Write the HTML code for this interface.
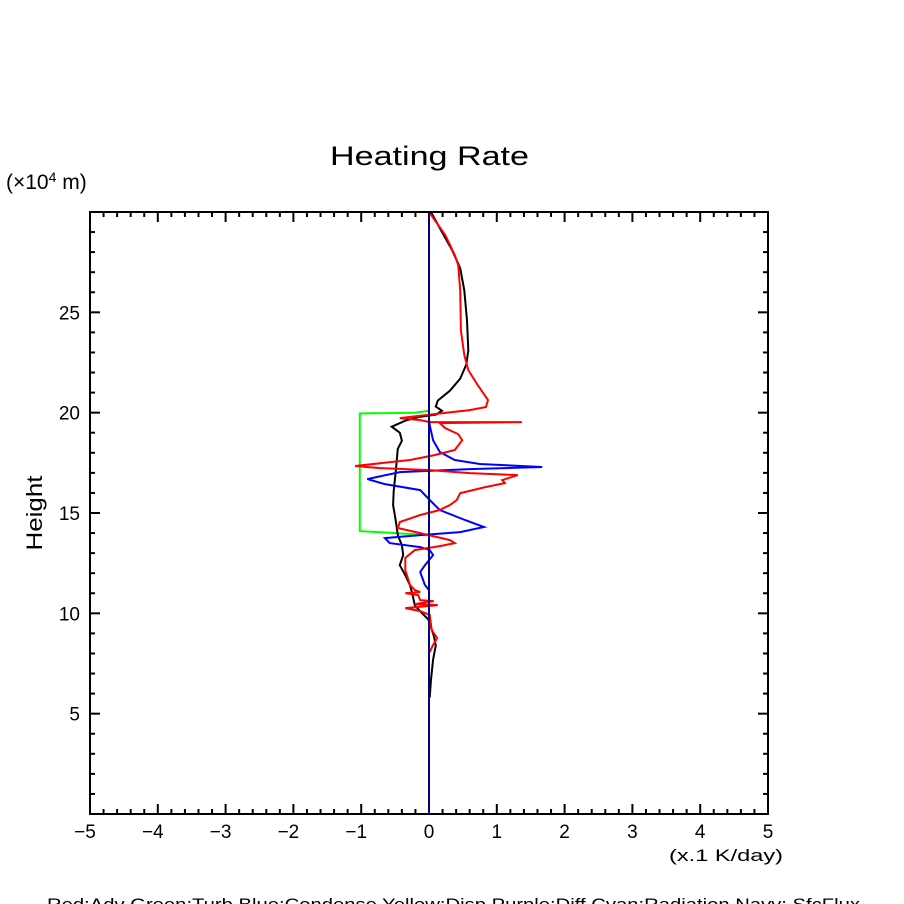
<!DOCTYPE html>
<html><head><meta charset="utf-8"><style>
html,body{margin:0;padding:0;background:#fff;}
svg{display:block;font-family:"Liberation Sans","DejaVu Sans",sans-serif;}
</style></head><body>
<svg id="chart" width="904" height="904" viewBox="0 0 904 904" xmlns="http://www.w3.org/2000/svg">
<rect width="904" height="904" fill="#fff"/>
<text x="330" y="165" font-size="27" textLength="199" lengthAdjust="spacingAndGlyphs">Heating Rate</text>
<text x="6" y="189" font-size="21">(×10<tspan font-size="14" dy="-7">4</tspan><tspan dy="7"> m)</tspan></text>
<text x="42" y="513" font-size="22" text-anchor="middle" textLength="75" lengthAdjust="spacingAndGlyphs" transform="rotate(-90 42 513)">Height</text>
<text x="669" y="861" font-size="17" textLength="114" lengthAdjust="spacingAndGlyphs">(x.1 K/day)</text>
<text x="47" y="910" font-size="17" textLength="813" lengthAdjust="spacingAndGlyphs">Red:Adv  Green:Turb  Blue:Condense  Yellow:Disp  Purple:Diff  Cyan:Radiation  Navy: SfcFlux</text>
<g id="axes"></g>
<g id="series"></g>
<rect x="90" y="212" width="678" height="602" fill="none" stroke="#000" stroke-width="2"/>
</svg>
<script>
const xTicks = [-5,-4,-3,-2,-1,0,1,2,3,4,5];
const yTicks = [5,10,15,20,25];
const blackX = [0.03,0.16,0.34,0.46,0.52,0.56,0.58,0.55,0.46,0.31,0.13,0.10,0.19,0.10,-0.13,-0.35,-0.55,-0.43,-0.40,-0.46,-0.49,-0.52,-0.53,-0.49,-0.46,-0.40,-0.38,-0.43,-0.35,-0.28,-0.24,-0.21,-0.13,-0.01,0.07,0.10,0.06,0.03,0.01];
const blackY = [30.0,29.2,28.1,27.2,26.1,24.6,23.1,22.4,21.7,21.1,20.6,20.3,20.1,19.9,19.8,19.6,19.3,19.0,18.6,18.2,17.1,16.1,15.4,14.6,13.9,13.4,12.9,12.4,11.9,11.4,10.9,10.4,10.1,9.7,8.9,8.4,7.7,6.7,5.8];
const redX = [0,0.24,0.38,0.43,0.46,0.47,0.52,0.58,0.72,0.87,0.84,0.60,0.16,-0.43,-0.13,0.01,1.37,0.16,0.24,0.43,0.49,0.38,0.09,-0.28,-1.09,-0.72,0.01,0.60,1.31,1.08,1.12,0.83,0.46,0.41,0.31,0.16,-0.13,-0.43,-0.46,-0.13,0.31,0.38,0.16,-0.21,-0.35,-0.35,-0.28,-0.21,-0.13,-0.35,-0.16,-0.13,0.07,-0.21,0.13,-0.35,-0.13,0.01,0.04,0.12,0.06,0.01];
const redY = [30.0,28.85,27.85,27.35,26.1,24.1,22.87,22.12,21.37,20.63,20.28,20.13,19.96,19.73,19.63,19.53,19.53,19.48,19.23,18.93,18.63,18.14,17.89,17.64,17.34,17.24,17.14,16.99,16.89,16.64,16.49,16.29,15.99,15.65,15.40,15.15,14.90,14.55,14.25,14.0,13.65,13.5,13.35,13.15,12.76,12.16,11.41,11.16,11.06,11.01,10.91,10.66,10.61,10.46,10.41,10.26,10.11,9.92,9.17,8.77,8.42,8.07];
const blueX = [0,0.01,0.06,0.16,0.38,0.75,1.67,0.60,-0.43,-0.91,-0.65,-0.13,0.01,0.16,0.53,0.81,0.46,-0.13,-0.65,-0.58,-0.13,0.01,0.06,-0.06,-0.13,-0.06,0,0];
const blueY = [19.63,19.38,18.63,18.04,17.64,17.44,17.29,17.19,17.04,16.69,16.44,16.14,15.65,15.15,14.65,14.30,14.05,13.90,13.75,13.5,13.3,13.15,12.9,12.4,12.06,11.41,11.16,0];
const greenX = [0,-0.2,-1.02,-1.02,-0.5,0];
const greenY = [20.1,20.0,19.96,14.1,14.0,13.9];
const navyX = [0,0];
const navyY = [0,30];

const X0=90,X1=768,Y0=814,Y1=212,XMIN=-5,XMAX=5,YMIN=0,YMAX=30;
function sx(v){return X0+(v-XMIN)/(XMAX-XMIN)*(X1-X0);}
function sy(v){return Y0-(v-YMIN)/(YMAX-YMIN)*(Y0-Y1);}
const NS='http://www.w3.org/2000/svg';
const axes=document.getElementById('axes');
const series=document.getElementById('series');
function line(x1,y1,x2,y2,parent){const l=document.createElementNS(NS,'line');l.setAttribute('x1',x1);l.setAttribute('y1',y1);l.setAttribute('x2',x2);l.setAttribute('y2',y2);l.setAttribute('stroke','#000');l.setAttribute('stroke-width','2');parent.appendChild(l);return l;}
for(let i=0;i<=50;i++){
  const v=XMIN+i*0.2;const x=sx(v);const major=(i%5===0);const len=major?10:5;
  const t1=line(x,Y0,x,Y0-len,axes);
  
  
  const t2=line(x,Y1,x,Y1+len,axes);
  
  
}
xTicks.forEach(v=>{
  const t=document.createElementNS(NS,'text');
  t.setAttribute('x',sx(v)-(v<0?5:0));t.setAttribute('y',838);t.setAttribute('font-size','19');t.setAttribute('text-anchor','middle');
  t.textContent=(v<0?'\u2212'+Math.abs(v):String(v));
  
  
  axes.appendChild(t);
});
for(let v=1;v<30;v++){
  const y=sy(v);const major=(v%5===0);const len=major?10:5;
  const t1=line(X0,y,X0+len,y,axes);
  
  
  const t2=line(X1,y,X1-len,y,axes);
  
  
}
yTicks.forEach(v=>{
  const t=document.createElementNS(NS,'text');
  t.setAttribute('x',80);t.setAttribute('y',sy(v)+7);t.setAttribute('font-size','19');t.setAttribute('text-anchor','end');
  t.textContent=String(v);
  
  
  axes.appendChild(t);
});
function poly(xs,ys,color,name){
  const p=document.createElementNS(NS,'polyline');
  p.setAttribute('points',xs.map((x,i)=>sx(x).toFixed(1)+','+sy(ys[i]).toFixed(1)).join(' '));
  p.setAttribute('fill','none');p.setAttribute('stroke',color);p.setAttribute('stroke-width','2');
  
  
  series.appendChild(p);
}
poly(greenX,greenY,'#00ff00','series-turb');
poly(blackX,blackY,'#000000','series-total');
poly(blueX,blueY,'#0000ff','series-condense');
poly(redX,redY,'#ff0000','series-adv');
poly(navyX,navyY,'#000080','series-sfcflux');
</script>
</body></html>
